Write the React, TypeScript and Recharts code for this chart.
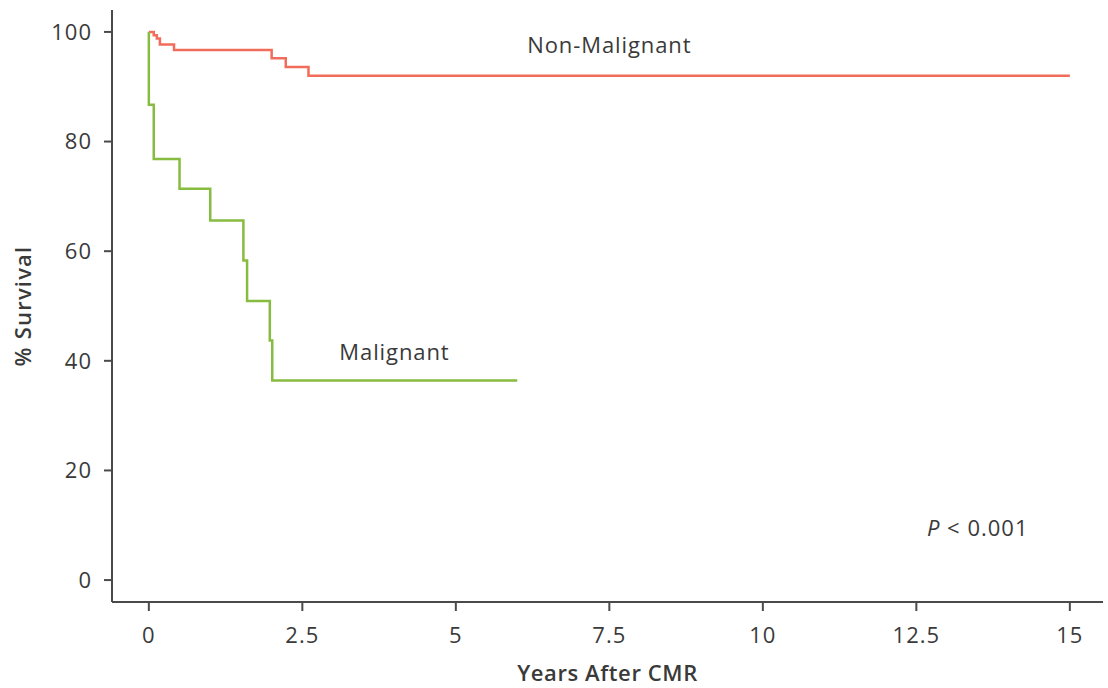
import React from 'react';
import { LineChart, Line, XAxis, YAxis, ReferenceDot, Label } from 'recharts';

const nonMalignantYears = [0, 0.08, 0.13, 0.18, 0.41, 2.0, 2.23, 2.6, 15];
const nonMalignantSurvival = [100, 99.4, 98.8, 97.7, 96.7, 95.2, 93.6, 92.0, 92.0];
const malignantYears = [0, 0, 0.08, 0.5, 1.0, 1.54, 1.6, 1.97, 2.01, 6.0];
const malignantSurvival = [100, 86.7, 76.8, 71.4, 65.6, 58.3, 50.9, 43.7, 36.4, 36.4];
const xTicks = [0, 2.5, 5, 7.5, 10, 12.5, 15];
const xTickLabels = ['0', '2.5', '5', '7.5', '10', '12.5', '15'];
const yTicks = [0, 20, 40, 60, 80, 100];

const nonMalignant = nonMalignantYears.map((t, i) => ({ t, s: nonMalignantSurvival[i] }));
const malignant = malignantYears.map((t, i) => ({ t, s: malignantSurvival[i] }));

const FONT = '"Open Sans", "Noto Sans", sans-serif';
const AXIS = '#4a4a4a';
const TEXT = '#3a3a3a';

const YTitle = (props: any) => {
  const vb = props.viewBox || {};
  const cy = vb.y + vb.height / 2;
  return (
    <text x={22} y={cy} transform={`rotate(-90 22 ${cy})`} textAnchor="middle" dominantBaseline="central"
      fontFamily={FONT} fontSize={22} fontWeight={600} letterSpacing={1.2} fill={TEXT}>% Survival</text>
  );
};

const PLabel = (props: any) => {
  const vb = props.viewBox || {};
  const x = vb.x + (vb.width || 0) / 2;
  const y = vb.y + (vb.height || 0) / 2;
  return (
    <text x={x} y={y} textAnchor="middle" dominantBaseline="central" fontFamily={FONT} fontSize={22}
      letterSpacing={1} fill={TEXT}>
      <tspan fontStyle="italic">P</tspan>
      <tspan> &lt; 0.001</tspan>
    </text>
  );
};

const annStyle = { fill: TEXT, fontSize: 22, fontFamily: FONT, letterSpacing: 0.9 };

export default function App() {
  return (
    <div style={{ position: 'absolute', left: 0, top: 0, background: '#fff' }}>
      <LineChart width={1108} height={688} margin={{ top: 10, right: 5, bottom: 0, left: 0 }}>
        <XAxis
          dataKey="t"
          type="number"
          domain={[-0.6, 15.54]}
          allowDataOverflow
          ticks={xTicks}
          tickFormatter={(v: number) => xTickLabels[xTicks.indexOf(v)] ?? String(v)}
          height={86}
          stroke={AXIS}
          strokeWidth={2}
          tickSize={9}
          tickMargin={16}
          tick={{ fill: TEXT, fontSize: 22, fontFamily: FONT, letterSpacing: 1 }}
        >
          <Label value="Years After CMR" position="insideBottom" offset={7}
            style={{ fontFamily: FONT, fontSize: 22, fontWeight: 600, fill: TEXT, letterSpacing: 0.6 }} />
        </XAxis>
        <YAxis
          dataKey="s"
          type="number"
          domain={[-4, 104]}
          allowDataOverflow
          ticks={yTicks}
          width={112}
          stroke={AXIS}
          strokeWidth={2}
          tickSize={8}
          tickMargin={12}
          tick={{ fill: TEXT, fontSize: 22, fontFamily: FONT, letterSpacing: 1 }}
        >
          <Label content={<YTitle />} />
        </YAxis>
        <Line data={nonMalignant} dataKey="s" type="stepAfter" stroke="#f26c5b" strokeWidth={2.5}
          dot={false} activeDot={false} isAnimationActive={false} />
        <Line data={malignant} dataKey="s" type="stepAfter" stroke="#86bc3f" strokeWidth={2.5}
          dot={false} activeDot={false} isAnimationActive={false} />
        <ReferenceDot x={7.5} y={97.6} r={0} ifOverflow="visible"
          label={{ value: 'Non-Malignant', position: 'center', ...annStyle }} />
        <ReferenceDot x={4.0} y={41.6} r={0} ifOverflow="visible"
          label={{ value: 'Malignant', position: 'center', ...annStyle }} />
        <ReferenceDot x={13.5} y={9.7} r={0} ifOverflow="visible" label={<PLabel />} />
      </LineChart>
    </div>
  );
}
